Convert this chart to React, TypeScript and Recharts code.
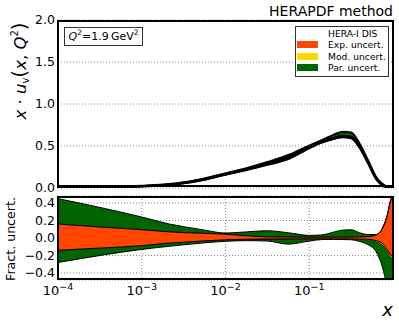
import { ComposedChart, Area, XAxis, YAxis, CartesianGrid } from 'recharts';

const FONT = '"DejaVu Sans", Verdana, sans-serif';

// log10(x) sampling points
const logX = [-4, -3.5, -3, -2.67, -2.5, -2.25, -2, -1.75, -1.5, -1.25, -1, -0.85, -0.7, -0.6, -0.5, -0.4, -0.3, -0.2, -0.13, -0.07, -0.03, 0];

// central x*u_v(x, Q^2)
const xuv = [0.005, 0.01, 0.022, 0.04, 0.06, 0.105, 0.165, 0.22, 0.285, 0.37, 0.49, 0.55, 0.595, 0.615, 0.605, 0.5, 0.32, 0.12, 0.045, 0.012, 0.002, 0];

// fractional uncertainties (lower / upper edges)
const expUp = [0.16, 0.125, 0.095, 0.07, 0.062, 0.053, 0.043, 0.025, 0.013, 0.01, 0.009, 0.009, 0.009, 0.01, 0.01, 0.012, 0.015, 0.035, 0.1, 0.25, 0.42, 0.5];
const expDn = [-0.14, -0.115, -0.088, -0.057, -0.048, -0.033, -0.02, -0.014, -0.011, -0.01, -0.009, -0.009, -0.009, -0.01, -0.01, -0.012, -0.015, -0.03, -0.057, -0.13, -0.19, -0.22];
const modUp = [0.16, 0.125, 0.095, 0.07, 0.062, 0.053, 0.043, 0.025, 0.014, 0.011, 0.01, 0.01, 0.01, 0.011, 0.011, 0.013, 0.017, 0.037, 0.1, 0.25, 0.42, 0.5];
const modDn = [-0.14, -0.115, -0.088, -0.057, -0.048, -0.033, -0.02, -0.015, -0.012, -0.011, -0.01, -0.01, -0.011, -0.012, -0.013, -0.016, -0.022, -0.042, -0.075, -0.15, -0.21, -0.24];
const parUp = [0.45, 0.35, 0.24, 0.16, 0.13, 0.09, 0.057, 0.07, 0.083, 0.06, 0.03, 0.035, 0.07, 0.09, 0.094, 0.06, 0.04, 0.04, 0.11, 0.26, 0.43, 0.5];
const parDn = [-0.28, -0.2, -0.13, -0.095, -0.078, -0.055, -0.038, -0.03, -0.035, -0.07, -0.035, -0.018, -0.015, -0.018, -0.02, -0.04, -0.075, -0.16, -0.32, -0.55, -0.7, -0.75];

const majorX = [-4, -3, -2, -1, 0];
const labelX = [-4, -3, -2, -1];
const minorX = [-4, -3, -2, -1].flatMap((d) => [2, 3, 4, 5, 6, 7, 8, 9].map((k) => d + Math.log10(k)));
const topTicks = [0, 0.5, 1.0, 1.5, 2.0];
const fracTicks = [-0.4, -0.2, 0, 0.2, 0.4];

const GREEN = '#006400';
const YELLOW = '#ffd700';
const ORANGE = '#ff4500';

const fracRows = logX.map((lx, i) => ({
  lx,
  exp: [expDn[i], expUp[i]],
  mod: [modDn[i], modUp[i]],
  par: [parDn[i], parUp[i]],
}));

const topRows = logX.map((lx, i) => ({
  lx,
  exp: [xuv[i] * (1 + expDn[i]), xuv[i] * (1 + expUp[i])],
  mod: [xuv[i] * (1 + modDn[i]), xuv[i] * (1 + modUp[i])],
  par: [xuv[i] * (1 + parDn[i]), xuv[i] * (1 + parUp[i])],
}));

const fmt = (v: number) => (v < 0 ? '\u2212' + Math.abs(v).toFixed(1) : Math.abs(v).toFixed(1));

const PowTick = (props: any) => {
  const { x, y, payload } = props;
  return (
    <text x={x} y={y + 15} textAnchor="middle" fontSize={13} fill="#000" fontFamily={FONT}>
      <tspan>10</tspan>
      <tspan dy={-5} fontSize={9.5}>{'\u2212' + Math.abs(payload.value)}</tspan>
    </text>
  );
};

const frame = { stroke: '#000', strokeWidth: 2 };
const tl = { stroke: '#000', strokeWidth: 1 };
const tickFont = { fontSize: 12.5, fill: '#000', fontFamily: FONT };

// inward tick axes + frame, shared by both panels (mirror axes take no room)
const frameAxes = (domainY: number[], ticksY: number[]) => [
  <XAxis key="bt" xAxisId="bt" dataKey="lx" type="number" domain={[-4, 0]} ticks={majorX} interval={0} orientation="bottom" mirror height={1} tick={false} tickSize={6} tickLine={tl} axisLine={frame} allowDataOverflow />,
  <XAxis key="bm" xAxisId="bm" dataKey="lx" type="number" domain={[-4, 0]} ticks={minorX} interval={0} orientation="bottom" mirror height={1} tick={false} tickSize={3} tickLine={tl} axisLine={false} allowDataOverflow />,
  <XAxis key="tt" xAxisId="tt" dataKey="lx" type="number" domain={[-4, 0]} ticks={majorX} interval={0} orientation="top" mirror height={1} tick={false} tickSize={6} tickLine={tl} axisLine={frame} allowDataOverflow />,
  <XAxis key="tm" xAxisId="tm" dataKey="lx" type="number" domain={[-4, 0]} ticks={minorX} interval={0} orientation="top" mirror height={1} tick={false} tickSize={3} tickLine={tl} axisLine={false} allowDataOverflow />,
  <YAxis key="li" yAxisId="li" type="number" domain={domainY} ticks={ticksY} interval={0} orientation="left" mirror width={1} tick={false} tickSize={6} tickLine={tl} axisLine={frame} allowDataOverflow />,
  <YAxis key="ri" yAxisId="ri" type="number" domain={domainY} ticks={ticksY} interval={0} orientation="right" mirror width={1} tick={false} tickSize={6} tickLine={tl} axisLine={frame} allowDataOverflow />,
];

const bands = (sw: number) => [
  <Area key="par" dataKey="par" type="monotone" fill={GREEN} fillOpacity={1} stroke="#000" strokeWidth={sw} isAnimationActive={false} dot={false} activeDot={false} />,
  <Area key="mod" dataKey="mod" type="monotone" fill={YELLOW} fillOpacity={1} stroke="#000" strokeWidth={sw * 0.6} isAnimationActive={false} dot={false} activeDot={false} />,
  <Area key="exp" dataKey="exp" type="monotone" fill={ORANGE} fillOpacity={1} stroke="#000" strokeWidth={sw} isAnimationActive={false} dot={false} activeDot={false} />,
];

const legendRows = [
  { label: 'HERA-I DIS', color: null },
  { label: 'Exp. uncert.', color: ORANGE },
  { label: 'Mod. uncert.', color: YELLOW },
  { label: 'Par. uncert.', color: GREEN },
];

export default function App() {
  return (
    <div style={{ position: 'absolute', left: 0, top: 0, width: 399, height: 328, background: '#fff', fontFamily: FONT, color: '#000' }}>
      <div style={{ position: 'absolute', left: 0, top: 0 }}>
        <ComposedChart width={399} height={196} data={topRows} margin={{ top: 20, right: 6, bottom: 8, left: 0 }}>
          <CartesianGrid stroke="#888" strokeDasharray="1 2" />
          <XAxis dataKey="lx" type="number" domain={[-4, 0]} ticks={majorX} interval={0} orientation="bottom" mirror height={1} tick={false} tickLine={false} axisLine={false} allowDataOverflow />
          <YAxis type="number" domain={[0, 2]} ticks={topTicks} interval={0} width={58} tickFormatter={fmt} tickSize={0} tickMargin={3} tickLine={false} axisLine={false} tick={tickFont} allowDataOverflow />
          {frameAxes([0, 2], topTicks)}
          {bands(2)}
        </ComposedChart>
      </div>
      <div style={{ position: 'absolute', left: 0, top: 188 }}>
        <ComposedChart width={399} height={140} data={fracRows} margin={{ top: 8, right: 6, bottom: 0, left: 0 }}>
          <CartesianGrid stroke="#888" strokeDasharray="1 2" />
          <XAxis dataKey="lx" type="number" domain={[-4, 0]} ticks={labelX} interval={0} height={48} tick={<PowTick />} tickSize={0} tickMargin={0} tickLine={false} axisLine={false} allowDataOverflow />
          <YAxis type="number" domain={[-0.48, 0.48]} ticks={fracTicks} interval={0} width={58} tickFormatter={fmt} tickSize={0} tickMargin={3} tickLine={false} axisLine={false} tick={tickFont} allowDataOverflow />
          {frameAxes([-0.48, 0.48], fracTicks)}
          {bands(1)}
        </ComposedChart>
      </div>

      <div style={{ position: 'absolute', right: 6, top: 4, fontSize: 14, lineHeight: '15px', whiteSpace: 'nowrap' }}>HERAPDF method</div>

      <div style={{ position: 'absolute', left: 64, top: 27, width: 77, height: 17, border: '1px solid #333', background: '#fff', fontSize: 11, lineHeight: '17px', textAlign: 'center', whiteSpace: 'nowrap' }}>
        <i>Q</i><sup style={{ fontSize: 7.5, verticalAlign: '5px', lineHeight: 0 }}>2</sup>=1.9{'\u2009'}GeV<sup style={{ fontSize: 7.5, verticalAlign: '5px', lineHeight: 0 }}>2</sup>
      </div>

      <div style={{ position: 'absolute', left: 295, top: 26, width: 92, height: 48, border: '1px solid #333', background: '#fff', fontSize: 9.2, paddingTop: 1 }}>
        {legendRows.map((r) => (
          <div key={r.label} style={{ position: 'relative', height: 11.3, lineHeight: '11.3px', whiteSpace: 'nowrap' }}>
            {r.color && <span style={{ position: 'absolute', left: 1, top: 2.2, width: 21, height: 7, background: r.color }} />}
            <span style={{ position: 'absolute', left: 32 }}>{r.label}</span>
          </div>
        ))}
      </div>

      <div style={{ position: 'absolute', left: 19, top: 71, transform: 'translate(-50%, -50%) rotate(-90deg)', fontSize: 16.5, whiteSpace: 'nowrap', lineHeight: 'normal' }}>
        <i>x</i> · <i>u</i><sub style={{ fontSize: 10, verticalAlign: '-3px', lineHeight: 0 }}>v</sub>
        <span style={{ fontSize: 20 }}>(</span><i>x</i>, <i>Q</i><sup style={{ fontSize: 10, verticalAlign: '8px', lineHeight: 0 }}>2</sup><span style={{ fontSize: 20 }}>)</span>
      </div>

      <div style={{ position: 'absolute', left: 10, top: 239, transform: 'translate(-50%, -50%) rotate(-90deg)', fontSize: 12.6, whiteSpace: 'nowrap', lineHeight: 'normal' }}>
        Fract. uncert.
      </div>

      <div style={{ position: 'absolute', right: 6, top: 300, fontSize: 18, lineHeight: '19px', fontStyle: 'italic' }}>x</div>
    </div>
  );
}
